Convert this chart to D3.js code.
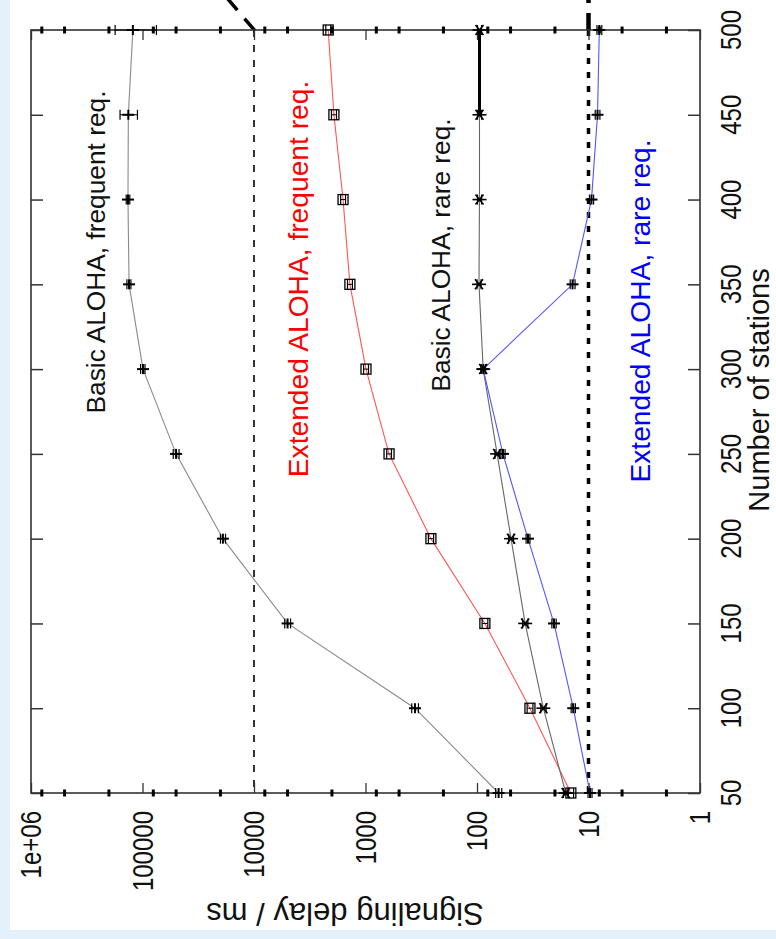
<!DOCTYPE html>
<html>
<head>
<meta charset="utf-8">
<script src="https://cdn.jsdelivr.net/npm/d3@7"></script>
<style>
  body { margin: 0; background: #e4f1fb; }
  svg { display: block; font-family: "Liberation Sans", Arial, sans-serif; }
</style>
</head>
<body>
<div id="vis"></div>
<script>
// declare constants
const FRAME_WIDTH = 776;
const FRAME_HEIGHT = 939;
const PLOT = {left: 31, right: 700, top: 30, bottom: 793};

// data
const stations = [50, 100, 150, 200, 250, 300, 350, 400, 450, 500];

const basicFreq   = [64, 360, 5000, 19000, 50000, 99000, 132000, 135000, 134000, 122000];
const basicFreqLo = [60, 335, 4700, 18000, 47000, 95000, 127000, 130000, 111000, 75000];
const basicFreqHi = [68, 385, 5300, 20000, 53000, 104000, 138000, 140000, 159000, 176000];

const extFreq   = [14.4, 33.5, 85, 259, 615, 990, 1380, 1590, 1920, 2160];
const extFreqLo = [13.6, 31.5, 80, 245, 585, 940, 1310, 1510, 1820, 2050];
const extFreqHi = [15.2, 35.5, 90, 273, 645, 1040, 1450, 1670, 2020, 2270];

const basicRare   = [16, 25.4, 37, 49.5, 66, 88, 96, 95, 95, 95];
const basicRareLo = [15.2, 24, 35, 47, 63, 84, 92, 91, 91, 91];
const basicRareHi = [16.8, 26.8, 39, 52, 69, 92, 100, 99, 99, 99];

const extRare   = [9.7, 13.7, 20.4, 34.9, 58.5, 88, 13.9, 9.4, 8.3, 8.0];
const extRareLo = [9.3, 13.1, 19.5, 33.5, 56, 84, 13.2, 9.0, 7.9, 7.6];
const extRareHi = [10.1, 14.3, 21.3, 36.3, 61, 92, 14.6, 9.8, 8.7, 8.4];

const stationTicks = [50, 100, 150, 200, 250, 300, 350, 400, 450, 500];
const delayTicks = [1, 10, 100, 1000, 10000, 100000, 1000000];
const delayTickLabels = ["1", "10", "100", "1000", "10000", "100000", "1e+06"];
const minorFactors = [2, 5, 8];
const thresholds = [10000, 10];

const seriesNames = ["Basic ALOHA, frequent req.", "Extended ALOHA, frequent req.",
                     "Basic ALOHA, rare req.", "Extended ALOHA, rare req."];

// chart is drawn turned a quarter turn: stations run bottom -> top, delay right -> left
const X = d3.scaleLog().domain([1e6, 1]).range([PLOT.left, PLOT.right]);
const Y = d3.scaleLinear().domain([50, 500]).range([PLOT.bottom, PLOT.top]);

const FRAME = d3.select('#vis')
                .append('svg')
                .attr('width', FRAME_WIDTH)
                .attr('height', FRAME_HEIGHT);

// light blue page with white slide
FRAME.append('rect')
     .attr('width', FRAME_WIDTH).attr('height', FRAME_HEIGHT)
     .attr('fill', '#e4f1fb');
FRAME.append('rect')
     .attr('x', 10).attr('y', 0)
     .attr('width', FRAME_WIDTH - 10).attr('height', 930)
     .attr('fill', '#ffffff');

// threshold lines (dashed, they run past the top of the plot)
FRAME.append('line')
     .attr('x1', X(thresholds[0])).attr('x2', X(thresholds[0]))
     .attr('y1', PLOT.top).attr('y2', PLOT.bottom)
     .attr('stroke', '#000').attr('stroke-width', 1.6)
     .attr('stroke-dasharray', '7 8');
FRAME.append('line')
     .attr('x1', X(thresholds[0]) - 27).attr('y1', -2)
     .attr('x2', X(thresholds[0]) + 2).attr('y2', PLOT.top + 2)
     .attr('stroke', '#000').attr('stroke-width', 3.5)
     .attr('stroke-dasharray', '16 11');
FRAME.append('line')
     .attr('x1', X(thresholds[1])).attr('x2', X(thresholds[1]))
     .attr('y1', PLOT.top).attr('y2', PLOT.bottom)
     .attr('stroke', '#000').attr('stroke-width', 3.5)
     .attr('stroke-dasharray', '6 8');
FRAME.append('line')
     .attr('x1', X(thresholds[1])).attr('x2', X(thresholds[1]))
     .attr('y1', 0).attr('y2', PLOT.top)
     .attr('stroke', '#000').attr('stroke-width', 4.5)
     .attr('stroke-dasharray', '3 10 20');

// frame
FRAME.append('rect')
     .attr('x', PLOT.left).attr('y', PLOT.top)
     .attr('width', PLOT.right - PLOT.left).attr('height', PLOT.bottom - PLOT.top)
     .attr('fill', 'none').attr('stroke', '#333').attr('stroke-width', 1.6);

// station ticks on both sides (pointing in)
FRAME.append('g')
     .attr('transform', 'translate(' + PLOT.left + ',0)')
     .call(d3.axisRight(Y).tickValues(stationTicks).tickSize(12).tickFormat(''))
     .call(g => g.select('.domain').remove())
     .selectAll('line').attr('stroke', '#333').attr('stroke-width', 1.5);
FRAME.append('g')
     .attr('transform', 'translate(' + PLOT.right + ',0)')
     .call(d3.axisLeft(Y).tickValues(stationTicks).tickSize(12).tickFormat(''))
     .call(g => g.select('.domain').remove())
     .selectAll('line').attr('stroke', '#333').attr('stroke-width', 1.5);

// delay ticks top and bottom
FRAME.append('g')
     .attr('transform', 'translate(0,' + PLOT.bottom + ')')
     .call(d3.axisTop(X).tickValues(delayTicks).tickSize(10).tickFormat(''))
     .call(g => g.select('.domain').remove())
     .selectAll('line').attr('stroke', '#333').attr('stroke-width', 1.3);
FRAME.append('g')
     .attr('transform', 'translate(0,' + PLOT.top + ')')
     .call(d3.axisBottom(X).tickValues(delayTicks).tickSize(10).tickFormat(''))
     .call(g => g.select('.domain').remove())
     .selectAll('line').attr('stroke', '#333').attr('stroke-width', 1.3);

// small bold minor ticks (2, 5, 8 of each decade)
const minors = [];
delayTicks.slice(0, -1).forEach(d => minorFactors.forEach(f => minors.push(d * f)));
[PLOT.top, PLOT.bottom].forEach(yy => {
  FRAME.append('g').selectAll('rect')
       .data(minors)
       .enter()
       .append('rect')
         .attr('x', d => X(d) - 1.5)
         .attr('y', yy - 3.5)
         .attr('width', 3)
         .attr('height', 7)
         .attr('fill', '#000');
});

// tick labels, turned (glyphs a bit stretched like the slide)
FRAME.append('g').selectAll('text')
     .data(stationTicks)
     .enter()
     .append('text')
       .attr('transform', d => 'translate(731,' + Y(d) + ') rotate(-90) scale(1,1.2)')
       .attr('text-anchor', 'middle')
       .attr('dy', '0.36em')
       .attr('font-size', 24)
       .attr('fill', '#111')
       .text(d => d);

FRAME.append('g').selectAll('text')
     .data(delayTicks)
     .enter()
     .append('text')
       .attr('transform', d => 'translate(' + X(d) + ',811) rotate(-90) scale(1,1.2)')
       .attr('text-anchor', 'end')
       .attr('dy', '0.36em')
       .attr('font-size', 24)
       .attr('fill', '#111')
       .text((d, i) => delayTickLabels[i]);

// axis titles
FRAME.append('text')
     .attr('transform', 'translate(769,390) rotate(-90)')
     .attr('text-anchor', 'middle')
     .attr('font-size', 29)
     .attr('fill', '#111')
     .text('Number of stations');

FRAME.append('text')
     .attr('transform', 'translate(345,903) rotate(180)')
     .attr('text-anchor', 'middle')
     .attr('font-size', 31)
     .attr('fill', '#111')
     .text('Signaling delay / ms');

// series
const series = [
  {name: seriesNames[0], v: basicFreq, lo: basicFreqLo, hi: basicFreqHi, color: '#8a8a8a', mark: 'plus'},
  {name: seriesNames[1], v: extFreq, lo: extFreqLo, hi: extFreqHi, color: '#ff5555', mark: 'square'},
  {name: seriesNames[2], v: basicRare, lo: basicRareLo, hi: basicRareHi, color: '#666666', mark: 'star'},
  {name: seriesNames[3], v: extRare, lo: extRareLo, hi: extRareHi, color: '#5555ff', mark: 'plus'}
];

const line = d3.line()
               .x(d => X(d.v))
               .y(d => Y(d.n));

series.forEach(s => {
  s.pts = stations.map((n, i) => ({n: n, v: s.v[i], lo: s.lo[i], hi: s.hi[i]}));
  FRAME.append('path')
       .datum(s.pts)
       .attr('d', line)
       .attr('fill', 'none')
       .attr('stroke', s.color)
       .attr('stroke-width', 1.1);
});

// bold black stretch of basic rare at the top
FRAME.append('path')
     .datum(series[2].pts.filter(d => d.n >= 450))
     .attr('d', line)
     .attr('fill', 'none')
     .attr('stroke', '#000')
     .attr('stroke-width', 3);

// markers with error bars
series.forEach(s => {
  const g = FRAME.append('g').attr('stroke', '#000').attr('fill', 'none');
  const p = g.selectAll('g')
             .data(s.pts)
             .enter()
             .append('g')
               .attr('transform', d => 'translate(0,' + Y(d.n) + ')');
  // error bar
  p.append('line')
     .attr('x1', d => X(d.hi)).attr('x2', d => X(d.lo))
     .attr('y1', 0).attr('y2', 0)
     .attr('stroke-width', 1);
  p.append('line')
     .attr('x1', d => X(d.hi)).attr('x2', d => X(d.hi))
     .attr('y1', -5).attr('y2', 5)
     .attr('stroke-width', 1.2);
  p.append('line')
     .attr('x1', d => X(d.lo)).attr('x2', d => X(d.lo))
     .attr('y1', -5).attr('y2', 5)
     .attr('stroke-width', 1.2);

  if (s.mark === 'plus') {
    p.append('line')
       .attr('x1', d => X(d.v) - 6).attr('x2', d => X(d.v) + 6)
       .attr('y1', 0).attr('y2', 0)
       .attr('stroke-width', 2);
    p.append('line')
       .attr('x1', d => X(d.v)).attr('x2', d => X(d.v))
       .attr('y1', -5).attr('y2', 5)
       .attr('stroke-width', 2);
  } else if (s.mark === 'square') {
    p.append('rect')
       .attr('x', d => X(d.v) - 5).attr('y', -5)
       .attr('width', 10).attr('height', 10)
       .attr('stroke-width', 1.3);
  } else {
    p.append('line')
       .attr('x1', d => X(d.v) - 7).attr('x2', d => X(d.v) + 7)
       .attr('y1', 0).attr('y2', 0)
       .attr('stroke-width', 1.6);
    p.append('line')
       .attr('x1', d => X(d.v) - 4).attr('x2', d => X(d.v) + 4)
       .attr('y1', -5).attr('y2', 5)
       .attr('stroke-width', 1.6);
    p.append('line')
       .attr('x1', d => X(d.v) - 4).attr('x2', d => X(d.v) + 4)
       .attr('y1', 5).attr('y2', -5)
       .attr('stroke-width', 1.6);
  }
});

// curve labels, turned
const labelPos = [
  {x: 105, y: 252, size: 26.3, color: '#111'},
  {x: 308, y: 279, size: 28.2, color: '#ff0000'},
  {x: 450, y: 255, size: 26.3, color: '#111'},
  {x: 650, y: 311, size: 28.2, color: '#0000ff'}
];
FRAME.append('g').selectAll('text')
     .data(seriesNames)
     .enter()
     .append('text')
       .attr('transform', (d, i) => 'translate(' + labelPos[i].x + ',' + labelPos[i].y + ') rotate(-90)')
       .attr('text-anchor', 'middle')
       .attr('font-size', (d, i) => labelPos[i].size)
       .attr('fill', (d, i) => labelPos[i].color)
       .text(d => d);
</script>
</body>
</html>
